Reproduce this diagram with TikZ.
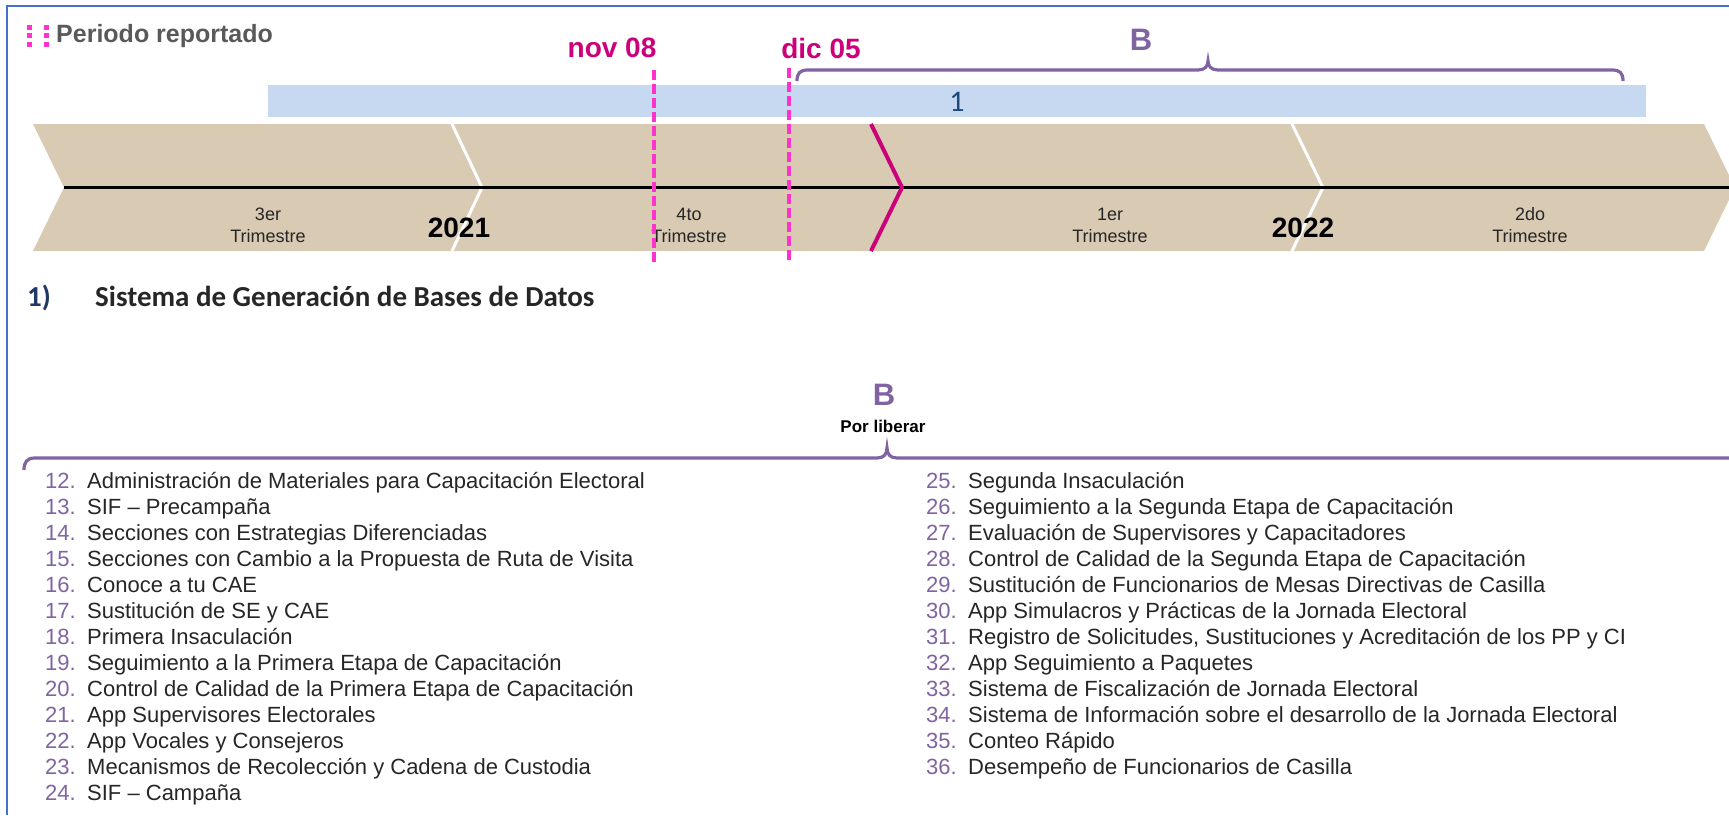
\documentclass[tikz,border=0pt]{standalone}
\usepackage{fontspec}
\setmainfont{Liberation Sans}
\newfontfamily\calibri{Carlito}
\usetikzlibrary{positioning}

\definecolor{bordeazul}{HTML}{4472C4}
\definecolor{barraazul}{HTML}{C6D9F1}
\definecolor{cafe}{HTML}{D9CAB3}
\definecolor{fucsia}{HTML}{CC007A}
\definecolor{rosa}{HTML}{FF33CC}
\definecolor{morado}{HTML}{8064A2}
\definecolor{marino}{HTML}{1F3864}
\definecolor{azulnum}{HTML}{1F497D}
\definecolor{texto}{HTML}{262626}
\definecolor{gris}{HTML}{595959}

\begin{document}
\begin{tikzpicture}[x=1pt,y=-1pt,
		txt/.style={inner sep=0pt, text=texto},
		trim/.style={txt, align=center, font=\fontsize{18}{22}\selectfont},
		anio/.style={txt, text=black, font=\fontsize{28}{28}\selectfont\bfseries},
		fecha/.style={txt, text=fucsia, font=\fontsize{28}{28}\selectfont\bfseries},
		letra/.style={txt, text=morado, font=\fontsize{31}{31}\selectfont\bfseries},
		numero/.style={txt, anchor=base east, text=morado, font=\fontsize{22}{22}\selectfont},
		renglon/.style={txt, anchor=base west, font=\fontsize{22}{22}\selectfont},
		llave/.style={morado, line width=3.2pt},
		corte/.style={rosa, line width=3.2pt, dash pattern=on 10pt off 4pt}]
		\useasboundingbox (0,0) rectangle (1729,815);

		% Рамка
		\draw[bordeazul, line width=2pt] (7,815) -- (7,6) -- (1729,6);

		% Заголовок
		\foreach \x in {29,46}
			\foreach \y in {27,35,44}
				\fill[rosa] (\x-2,\y-2) rectangle ++(4.5,4.5);
		\node[txt, anchor=west, text=gris, font=\fontsize{25}{25}\selectfont\bfseries] (periodo) at (56,36) {Periodo reportado};

		% Полоса
		\fill[barraazul] (268,85) rectangle (1646,117);
		\node[txt, text=azulnum, font=\calibri\fontsize{30}{30}\selectfont] (uno) at (957,102) {1};

		% Шкала
		\fill[cafe] (33,124) -- (1704,124) -- (1735,187.5) -- (1704,251) -- (33,251) -- (64,187.5) -- cycle;
		\draw[white, line width=3pt] (452,124) -- (482,187.5) -- (452,251);
		\draw[white, line width=3pt] (1292,124) -- (1323,187.5) -- (1292,251);
		\draw[line width=2.8pt] (64,187.5) -- (1729,187.5);
		\draw[fucsia, line width=4pt] (871,124) -- (902,187.5) -- (871,251);

		\node[trim] (t3) at (268,225) {3er\\Trimestre};
		\node[trim] (t4) at (689,225) {4to\\Trimestre};
		\node[trim] (t1) at (1110,225) {1er\\Trimestre};
		\node[trim] (t2) at (1530,225) {2do\\Trimestre};
		\node[anio] (a21) at (459,228) {2021};
		\node[anio] (a22) at (1303,228) {2022};

		% Даты
		\node[fecha] (nov) at (612,48) {nov 08};
		\node[fecha] (dic) at (821,48) {dic 05};
		\coordinate (novtop) at (654,70);
		\coordinate (dictop) at (789,68);
		\draw[corte] (novtop) -- ++(0,192);
		\draw[corte] (dictop) -- ++(0,194);

		% Скобка сверху
		\node[letra] (b1) at (1141,40) {B};
		\draw[llave] (797,81) .. controls (797,73) and (800,70) .. (808,70) -- (1198,70)
			.. controls (1205,70) and (1208,66) .. (1208,61) .. controls (1208,66) and (1211,70) .. (1218,70)
			-- (1612,70) .. controls (1620,70) and (1623,73) .. (1623,81);

		% Подзаголовок
		\node[txt, anchor=base west, text=marino, font=\calibri\fontsize{29}{29}\selectfont\bfseries] (sec) at (27,306) {1)};
		\node[txt, anchor=base west, font=\calibri\fontsize{29}{29}\selectfont\bfseries] (sistema) at (95,306) {Sistema de Generación de Bases de Datos};

		% Скобка снизу
		\node[letra] (b2) at (884,395) {B};
		\node[txt, text=black, font=\fontsize{17}{17}\selectfont\bfseries] (porlib) at (883,426) {Por liberar};
		\draw[llave] (24,470) .. controls (24,462) and (27,458) .. (35,458) -- (877,458)
			.. controls (884,458) and (887,454) .. (887,448) .. controls (887,454) and (890,458) .. (897,458)
			-- (1729,458);

		% Левая колонка
		\foreach \n/\t [count=\i from 0] in {
			12/Administración de Materiales para Capacitación Electoral,
			13/SIF – Precampaña,
			14/Secciones con Estrategias Diferenciadas,
			15/Secciones con Cambio a la Propuesta de Ruta de Visita,
			16/Conoce a tu CAE,
			17/Sustitución de SE y CAE,
			18/Primera Insaculación,
			19/Seguimiento a la Primera Etapa de Capacitación,
			20/Control de Calidad de la Primera Etapa de Capacitación,
			21/App Supervisores Electorales,
			22/App Vocales y Consejeros,
			23/Mecanismos de Recolección y Cadena de Custodia,
			24/SIF – Campaña} {
			\node[numero] (num\n) at (76,488+26*\i) {\n.};
			\node[renglon] (sis\n) at (87,488+26*\i) {\t};
		}

		% Правая колонка
		\foreach \n/\t [count=\i from 0] in {
			25/Segunda Insaculación,
			26/Seguimiento a la Segunda Etapa de Capacitación,
			27/Evaluación de Supervisores y Capacitadores,
			28/Control de Calidad de la Segunda Etapa de Capacitación,
			29/Sustitución de Funcionarios de Mesas Directivas de Casilla,
			30/App Simulacros y Prácticas de la Jornada Electoral,
			31/{Registro de Solicitudes, Sustituciones y Acreditación de los PP y CI},
			32/App Seguimiento a Paquetes,
			33/Sistema de Fiscalización de Jornada Electoral,
			34/Sistema de Información sobre el desarrollo de la Jornada Electoral,
			35/Conteo Rápido,
			36/Desempeño de Funcionarios de Casilla} {
			\node[numero] (num\n) at (957,488+26*\i) {\n.};
			\node[renglon] (sis\n) at (968,488+26*\i) {\t};
		}
	\end{tikzpicture}
\end{document}
